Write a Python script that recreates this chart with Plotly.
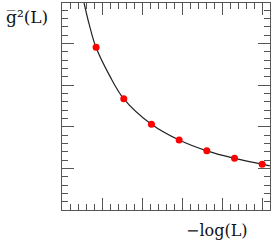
import plotly.graph_objects as go

# data points: x = -log(L), y = g^2(L)
x_pts = [0.85, 1.54, 2.23, 2.92, 3.61, 4.30, 4.99]
y_pts = [3.905, 2.67, 2.057, 1.68, 1.423, 1.24, 1.097]

# fitted curve
x_curve = [0.55, 0.68, 0.85, 1.19, 1.54, 2.23, 2.92, 3.61, 4.30, 4.99, 5.18]
y_curve = [4.97, 4.45, 3.90, 3.22, 2.67, 2.06, 1.68, 1.42, 1.24, 1.10, 1.06]

x_label = "\u2212log(L)"
y_label = "g\u0305\u00b2(L)"

axis_color = "#555555"
font_family = "DejaVu Serif"

fig = go.Figure()
fig.add_trace(go.Scatter(x=x_curve, y=y_curve, mode="lines",
                         line=dict(color="#222222", width=1.2, shape="spline"),
                         hoverinfo="skip", showlegend=False))
fig.add_trace(go.Scatter(x=x_pts, y=y_pts, mode="markers",
                         marker=dict(color="#ff0000", size=7),
                         showlegend=False))

common = dict(showgrid=False, zeroline=False, showline=True, linecolor=axis_color,
              linewidth=1, mirror="ticks", ticks="inside", ticklen=12,
              tickcolor=axis_color, tickwidth=1, showticklabels=False, dtick=1, tick0=0)

fig.update_xaxes(range=[0, 5.185], **common,
                 minor=dict(dtick=0.2, ticklen=6, tickcolor=axis_color, ticks="inside"))
fig.update_yaxes(range=[0, 4.97], **common,
                 minor=dict(dtick=0.2, ticklen=6, tickcolor=axis_color, ticks="inside"))

fig.update_layout(
    width=273, height=242,
    margin=dict(l=62, r=3, t=3, b=32),
    plot_bgcolor="white", paper_bgcolor="white",
    font=dict(family=font_family, size=16, color="#111111"),
    annotations=[
        dict(text=y_label, xref="paper", yref="paper", x=-0.277, y=0.93,
             xanchor="left", yanchor="middle", showarrow=False,
             font=dict(family=font_family, size=17, color="#111111")),
        dict(text=x_label, xref="paper", yref="paper", x=0.9036, y=-0.10,
             xanchor="right", yanchor="middle", showarrow=False,
             font=dict(family=font_family, size=16, color="#111111")),
    ],
)

fig.write_html("out.html", config={"displayModeBar": False},
               post_script="document.body.style.margin='0';")
